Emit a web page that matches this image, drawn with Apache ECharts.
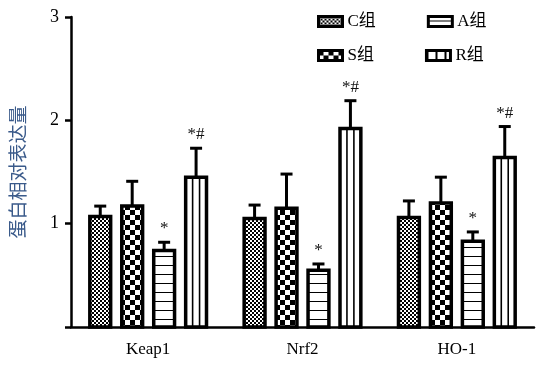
<!DOCTYPE html>
<html>
<head>
<meta charset="utf-8">
<script src="https://cdn.jsdelivr.net/npm/echarts@6/dist/echarts.min.js"></script>
<style>
html,body{margin:0;padding:0;background:#fff;}
#chart{width:548px;height:375px;}
</style>
</head>
<body>
<div id="chart"></div>
<script>
// ---- data ----
const categories = ['Keap1', 'Nrf2', 'HO-1'];
const groupNames = ['C组', 'S组', 'A组', 'R组'];
const valuesC = [1.07, 1.05, 1.06];
const errC    = [0.10, 0.13, 0.16];
const valuesS = [1.17, 1.15, 1.20];
const errS    = [0.24, 0.33, 0.25];
const valuesA = [0.74, 0.55, 0.83];
const errA    = [0.08, 0.06, 0.09];
const valuesR = [1.45, 1.92, 1.64];
const errR    = [0.28, 0.27, 0.30];
const marksC = ['', '', ''];
const marksS = ['', '', ''];
const marksA = ['*', '*', '*'];
const marksR = ['*#', '*#', '*#'];
const yTickLabels = ['', '1', '2', '3'];

// ---- patterns ----
function makeTile(w, h, draw) {
  const c = document.createElement('canvas');
  c.width = w; c.height = h;
  const ctx = c.getContext('2d');
  ctx.fillStyle = '#fff';
  ctx.fillRect(0, 0, w, h);
  ctx.fillStyle = '#000';
  draw(ctx);
  return { image: c, repeat: 'repeat' };
}
const patC = makeTile(4, 4, ctx => { ctx.fillRect(0, 0, 2, 2); ctx.fillRect(2, 2, 2, 2); });
const patS = makeTile(10, 10, ctx => { ctx.fillRect(0, 0, 5, 5); ctx.fillRect(5, 5, 5, 5); });
const patA = makeTile(4, 9, ctx => { ctx.fillRect(0, 4, 4, 1); });
const patR = makeTile(4, 4, ctx => {});
const patRL = makeTile(9, 4, ctx => { ctx.fillRect(0, 0, 2, 4); });
const patterns = [patC, patS, patA, patR];
const legendPatterns = [patC, patS, patA, patRL];

const seriesVals = [valuesC, valuesS, valuesA, valuesR];
const seriesErr = [errC, errS, errA, errR];
const seriesMarks = [marksC, marksS, marksA, marksR];

function renderItem(params, api) {
  const si = params.seriesIndex;
  const idx = api.value(0);
  const v = api.value(1);
  const e = api.value(2);
  const band = api.size([1, 0])[0];
  const base = api.coord([idx, 0]);
  const top = api.coord([idx, v]);
  const et = api.coord([idx, v + e]);
  const cx = base[0] + (si - 1.5) * band * 0.207;
  const w = band * 0.135;
  const children = [];
  children.push({ type: 'line', shape: { x1: cx, y1: top[1], x2: cx, y2: et[1] }, style: { stroke: '#000', lineWidth: 3 } });
  children.push({ type: 'line', shape: { x1: cx - 6, y1: et[1], x2: cx + 6, y2: et[1] }, style: { stroke: '#000', lineWidth: 3 } });
  children.push({ type: 'rect', shape: { x: cx - w / 2, y: top[1], width: w, height: base[1] - top[1] },
    style: { fill: patterns[si], stroke: '#000', lineWidth: 3.5 } });
  if (si === 3) {
    [-1, 1].forEach(s => {
      const lx = cx + s * w / 6;
      children.push({ type: 'line', shape: { x1: lx, y1: top[1], x2: lx, y2: base[1] }, style: { stroke: '#000', lineWidth: 1.6 } });
    });
  }
  const mark = seriesMarks[si][params.dataIndex];
  if (mark) {
    children.push({ type: 'text', x: cx, y: et[1] - 5,
      style: { text: mark, textAlign: 'center', textVerticalAlign: 'bottom', fill: '#111',
        font: '17px "Liberation Serif", serif' } });
  }
  return { type: 'group', children };
}

const series = groupNames.map((name, si) => ({
  name: name,
  type: 'custom',
  renderItem: renderItem,
  itemStyle: { color: legendPatterns[si], borderColor: '#000', borderWidth: 3 },
  data: categories.map((c, i) => [i, seriesVals[si][i], seriesErr[si][i]]),
  encode: { x: 0, y: [1, 2] },
  z: 2
}));

const legendText = { color: '#000', fontSize: 17, fontFamily: '"Liberation Serif", "Noto Sans CJK SC", serif' };
function legendItem(si) {
  return { name: groupNames[si], icon: 'rect', itemStyle: { color: legendPatterns[si], borderColor: '#000', borderWidth: 3 } };
}

const chart = echarts.init(document.getElementById('chart'), null, { renderer: 'canvas' });
chart.setOption({
  animation: false,
  grid: { left: 70, right: 14, top: 17, bottom: 48 },
  legend: [
    { left: 312, top: 8, itemWidth: 24, itemHeight: 10, itemGap: 51, textStyle: legendText,
      data: [legendItem(0), legendItem(2)], selectedMode: false },
    { left: 312, top: 42, itemWidth: 24, itemHeight: 10, itemGap: 51, textStyle: legendText,
      data: [legendItem(1), legendItem(3)], selectedMode: false }
  ],
  xAxis: {
    type: 'category',
    data: categories,
    boundaryGap: true,
    axisLine: { lineStyle: { color: '#000', width: 2.5 } },
    axisTick: { alignWithLabel: true, length: 6, lineStyle: { color: '#000', width: 2.5 } },
    axisLabel: { color: '#000', fontSize: 17, margin: 14, fontFamily: '"Liberation Serif", serif' },
    splitLine: { show: false }
  },
  yAxis: {
    type: 'value',
    min: 0, max: 3, interval: 1,
    name: '蛋白相对表达量',
    nameLocation: 'middle',
    nameRotate: 90,
    nameGap: 44,
    nameTextStyle: { color: '#3a5a8a', fontSize: 19, fontFamily: '"Noto Sans CJK SC", sans-serif' },
    axisLine: { show: true, lineStyle: { color: '#000', width: 2.5 } },
    axisTick: { show: true, length: 6, lineStyle: { color: '#000', width: 2.5 } },
    axisLabel: { color: '#000', fontSize: 18, margin: 12, fontFamily: '"Liberation Serif", serif',
      formatter: v => yTickLabels[Math.round(v)] },
    splitLine: { show: false }
  },
  series: series
});
</script>
</body>
</html>
